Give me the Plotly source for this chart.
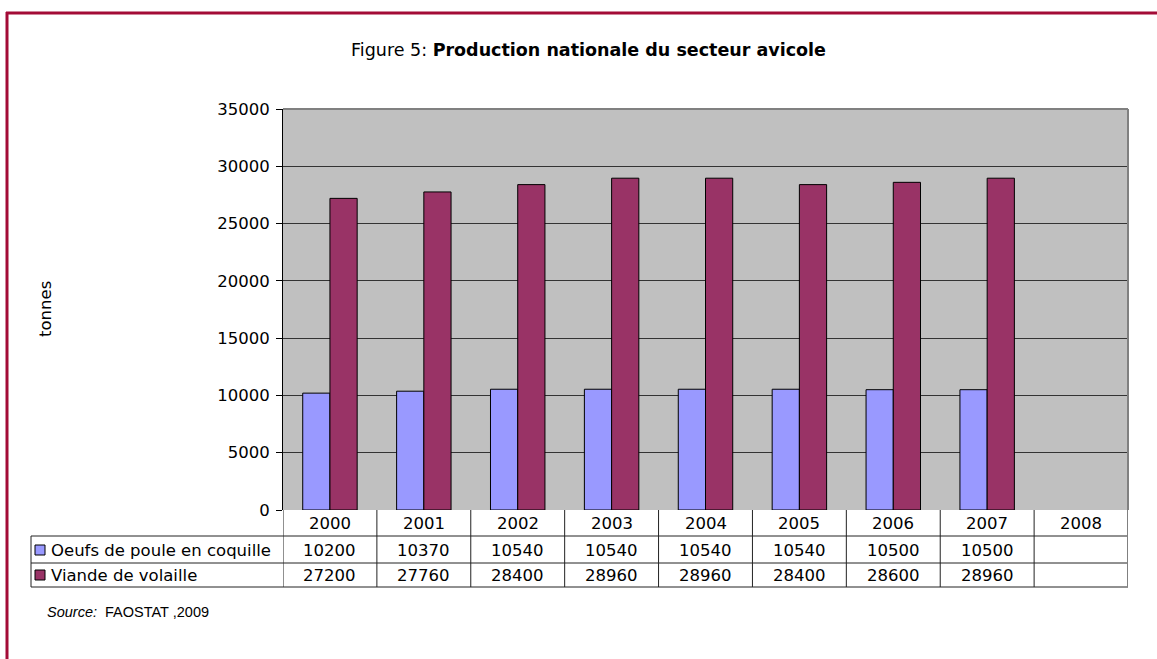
import plotly.graph_objects as go

# Production data (tonnes)
years = ["2000", "2001", "2002", "2003", "2004", "2005", "2006", "2007", "2008"]
oeufs = [10200, 10370, 10540, 10540, 10540, 10540, 10500, 10500, None]
viande = [27200, 27760, 28400, 28960, 28960, 28400, 28600, 28960, None]
series_names = ["Oeufs de poule en coquille", "Viande de volaille"]
series_colors = ["#9999FF", "#993366"]
y_ticks = [0, 5000, 10000, 15000, 20000, 25000, 30000, 35000]

W, H = 1157, 659
L, R, T, B = 283, 1128, 109, 510  # plot area in pixels

def px(x):
    return (x - L) / (R - L)

def py(y):
    return (B - y) / (B - T)

FONT = "DejaVu Sans, Verdana, sans-serif"
FS = 16.5

fig = go.Figure()
for name, vals, col in zip(series_names, [oeufs, viande], series_colors):
    fig.add_trace(go.Bar(
        x=years, y=vals, name=name,
        marker=dict(color=col, line=dict(color="black", width=1)),
        showlegend=False,
    ))

shapes = []
annotations = []

# outer frame (left and top)
frame = "#A30B37"
shapes.append(dict(type="line", xref="paper", yref="paper",
                   x0=px(7), x1=px(7), y0=py(12), y1=py(700),
                   line=dict(color=frame, width=3)))
shapes.append(dict(type="line", xref="paper", yref="paper",
                   x0=px(6), x1=px(1170), y0=py(13), y1=py(13),
                   line=dict(color=frame, width=3)))

# data table grid
row_lines = [536, 563, 587]
tc = "#222222"
for yy in row_lines:
    shapes.append(dict(type="line", xref="paper", yref="paper",
                       x0=px(31), x1=1, y0=py(yy), y1=py(yy),
                       line=dict(color=tc, width=1)))
shapes.append(dict(type="line", xref="paper", yref="paper",
                   x0=px(31), x1=px(31), y0=py(536), y1=py(587),
                   line=dict(color=tc, width=1)))
for i in range(len(years) + 1):
    shapes.append(dict(type="line", xref="x", yref="paper",
                       x0=i - 0.5, x1=i - 0.5, y0=0, y1=py(587),
                       line=dict(color=tc if i < len(years) else "#808080",
                                 width=1 if i < len(years) else 2)))

# plot area top/right border
shapes.append(dict(type="line", xref="paper", yref="paper", x0=0, x1=1, y0=1, y1=1,
                   line=dict(color="#808080", width=2)))
shapes.append(dict(type="line", xref="paper", yref="paper", x0=1, x1=1, y0=0, y1=1,
                   line=dict(color="#808080", width=2)))

# table text
row_y = [523, 550, 575]
for i, yr in enumerate(years):
    annotations.append(dict(x=i, y=py(row_y[0]), xref="x", yref="paper",
                            text=yr, showarrow=False, yanchor="middle",
                            font=dict(family=FONT, size=FS, color="black")))
    for vals, ry in zip([oeufs, viande], row_y[1:]):
        if vals[i] is not None:
            annotations.append(dict(x=i, y=py(ry), xref="x", yref="paper",
                                    text=str(vals[i]), showarrow=False, yanchor="middle",
                                    font=dict(family=FONT, size=FS, color="black")))

for name, col, ry in zip(series_names, series_colors, row_y[1:]):
    shapes.append(dict(type="rect", xref="paper", yref="paper",
                       x0=px(35), x1=px(45), y0=py(ry - 5), y1=py(ry + 5),
                       fillcolor=col, line=dict(color="black", width=1)))
    annotations.append(dict(x=px(49), y=py(ry), xref="paper", yref="paper",
                            text=name, showarrow=False, xanchor="left", yanchor="middle",
                            font=dict(family=FONT, size=FS, color="black")))

# axis title
annotations.append(dict(x=px(45), y=py(309), xref="paper", yref="paper",
                        text="tonnes", textangle=-90, showarrow=False,
                        xanchor="center", yanchor="middle",
                        font=dict(family=FONT, size=FS, color="black")))

# source
annotations.append(dict(x=px(45), y=py(612), xref="paper", yref="paper",
                        text="<i>Source:</i>  FAOSTAT ,2009", showarrow=False,
                        xanchor="left", yanchor="middle",
                        font=dict(family="Liberation Sans, Arial, sans-serif", size=14.5, color="black")))

fig.update_layout(
    width=W, height=H,
    margin=dict(l=L, r=W - R, t=T, b=H - B, pad=0),
    paper_bgcolor="white",
    plot_bgcolor="#C0C0C0",
    bargap=0.42, bargroupgap=0,
    barmode="group",
    title=dict(text="Figure 5: <b>Production nationale du secteur avicole</b>",
               x=588.5 / W, xanchor="center", y=1 - 50 / H, yanchor="middle",
               font=dict(family=FONT, size=17.5, color="black")),
    xaxis=dict(type="category", categoryorder="array", categoryarray=years,
               showticklabels=False, ticks="", showgrid=False,
               showline=False, zeroline=False, range=[-0.5, len(years) - 0.5]),
    yaxis=dict(range=[0, 35000], tickvals=y_ticks, ticktext=[str(v) for v in y_ticks],
               ticks="outside", ticklen=6,
               tickcolor="black", showline=True, linecolor="black", linewidth=1,
               showgrid=True, gridcolor="#333333", gridwidth=1, zeroline=False,
               ticklabelstandoff=3,
               tickfont=dict(family=FONT, size=FS, color="black")),
    shapes=shapes,
    annotations=annotations,
)

fig.write_html("out.html")
